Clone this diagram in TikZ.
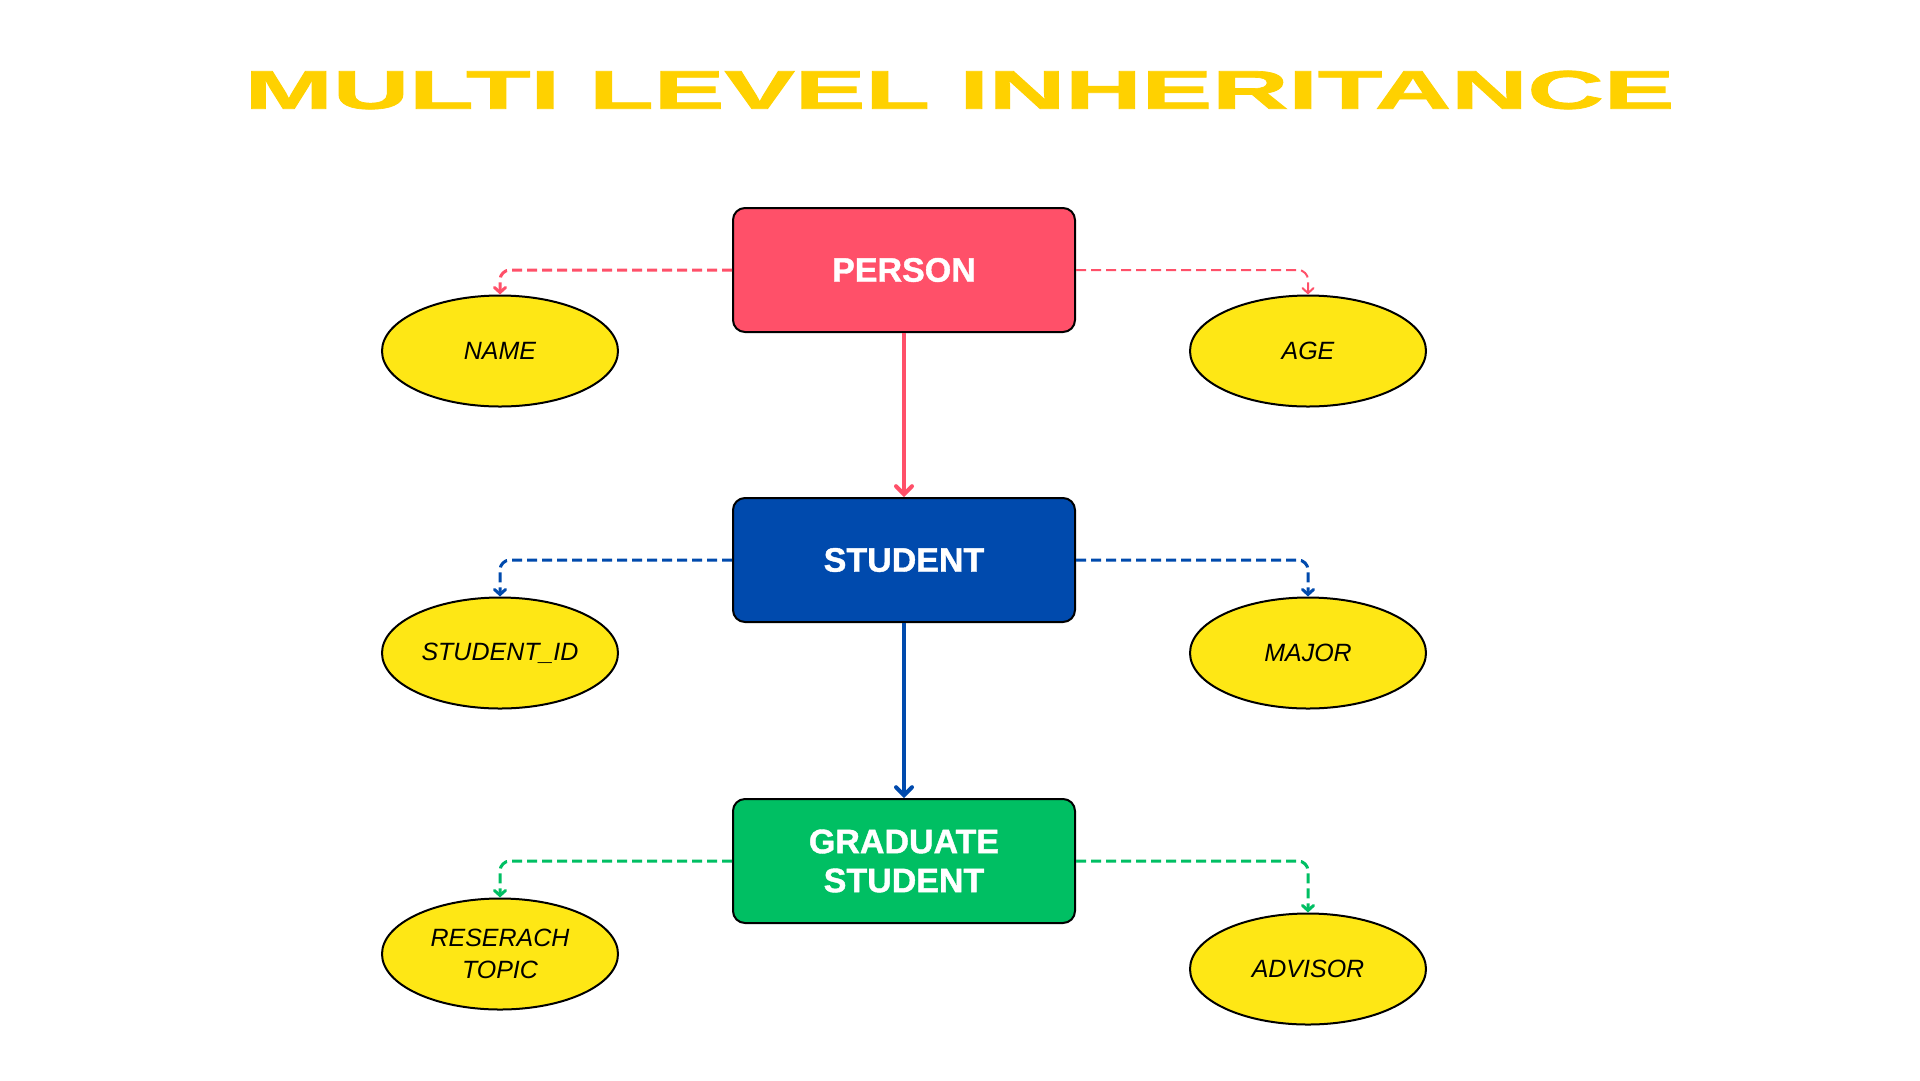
\documentclass[tikz,border=0pt]{standalone}
\usepackage{fontspec}
\setmainfont{Liberation Sans}
\newfontfamily\heavyfont[FakeBold=1.2]{Liberation Sans Bold}
\usetikzlibrary{arrows.meta,shapes.geometric}
\definecolor{titlecol}{HTML}{FFD100}
\definecolor{ellcol}{HTML}{FEE715}
\definecolor{pcol}{HTML}{FF5069}
\definecolor{scol}{HTML}{004AAD}
\definecolor{gcol}{HTML}{00BF63}
\tikzset{
  classbox/.style={draw=black, line width=2pt, rounded corners=12pt, minimum width=342pt, minimum height=124pt, inner sep=0pt, align=center, text=white, font=\fontsize{34}{39}\heavyfont},
  attr/.style={ellipse, draw=black, line width=2pt, fill=ellcol, minimum width=236pt, minimum height=111pt, inner sep=0pt, align=center, font=\fontsize{25}{32}\selectfont\itshape},
  inherit/.style={line width=4pt, -{Straight Barb[length=8pt,width=16pt,line cap=round]}},
  attrlink/.style={line width=3pt, dash pattern=on 10pt off 5pt, rounded corners=10pt, -{Straight Barb[length=5pt,width=11pt,line cap=round]}}
}
\begin{document}
\begin{tikzpicture}[x=1pt,y=-1pt]
\useasboundingbox (0,0) rectangle (1920,1080);
\fill[white] (0,0) rectangle (1920,1080);
\node[text=titlecol, inner sep=0pt] (title) at (959.5,90) {\resizebox{1429pt}{38pt}{\heavyfont MULTI LEVEL INHERITANCE}};

\node[classbox, fill=pcol] (person) at (904,270) {PERSON};
\node[classbox, fill=scol] (student) at (904,560) {STUDENT};
\node[classbox, fill=gcol] (grad) at (904,861) {GRADUATE\\STUDENT};

\node[attr] (name) at (500,351) {NAME};
\node[attr] (age) at (1308,351) {AGE};
\node[attr] (sid) at (500,653) {STUDENT\_ID};
\node[attr] (major) at (1308,653) {MAJOR};
\node[attr] (topic) at (500,954) {RESERACH\\TOPIC};
\node[attr] (advisor) at (1308,969) {ADVISOR};

\draw[inherit, pcol] (person.south) -- (student.north);
\draw[inherit, scol] (student.south) -- (grad.north);

\draw[attrlink, pcol] (person.west) -| (name.north);
\draw[attrlink, pcol, line width=2pt] (person.east) -| (age.north);
\draw[attrlink, scol] (student.west) -| (sid.north);
\draw[attrlink, scol] (student.east) -| (major.north);
\draw[attrlink, gcol] (grad.west) -| (topic.north);
\draw[attrlink, gcol] (grad.east) -| (advisor.north);
\end{tikzpicture}
\end{document}
